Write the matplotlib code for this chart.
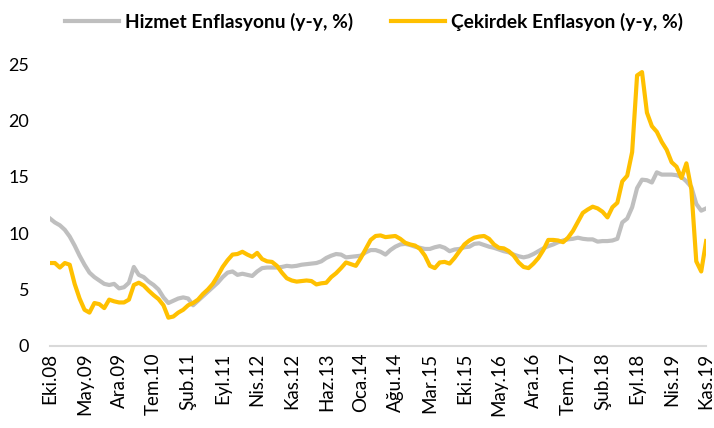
import matplotlib.pyplot as plt

plt.rcParams['font.family'] = ['Lato', 'DejaVu Sans']

# monthly data, Eki.08 ... Kas.19
hizmet = [
    11.3, 10.95, 10.7, 10.3, 9.7, 8.9, 8.0, 7.2, 6.5, 6.1,
    5.8, 5.5, 5.4, 5.5, 5.1, 5.2, 5.6, 7.0, 6.3, 6.1,
    5.7, 5.4, 5.0, 4.3, 3.8, 4.0, 4.2, 4.3, 4.2, 3.6,
    4.0, 4.4, 4.8, 5.2, 5.6, 6.1, 6.5, 6.6, 6.3, 6.4,
    6.3, 6.2, 6.6, 6.9, 6.95, 6.95, 6.95, 7.0, 7.1, 7.05,
    7.1, 7.2, 7.25, 7.3, 7.35, 7.5, 7.8, 8.0, 8.15, 8.1,
    7.85, 7.9, 7.95, 8.0, 8.3, 8.5, 8.5, 8.35, 8.1, 8.5,
    8.8, 9.0, 9.05, 8.95, 8.8, 8.7, 8.6, 8.6, 8.75, 8.85,
    8.7, 8.4, 8.55, 8.6, 8.75, 8.8, 9.05, 9.1, 8.95, 8.8,
    8.7, 8.55, 8.4, 8.3, 8.1, 7.95, 7.85, 7.95, 8.15, 8.4,
    8.65, 8.85, 9.0, 9.2, 9.35, 9.45, 9.5, 9.6, 9.5, 9.45,
    9.45, 9.25, 9.3, 9.3, 9.35, 9.5, 10.95, 11.3, 12.3, 14.0,
    14.75, 14.7, 14.5, 15.4, 15.2, 15.2, 15.2, 15.15, 15.0, 14.6,
    14.1, 12.6, 12.0, 12.2,
]

cekirdek = [
    7.35, 7.35, 6.95, 7.35, 7.2, 5.5, 4.2, 3.2, 2.95, 3.8,
    3.7, 3.35, 4.1, 3.95, 3.85, 3.85, 4.1, 5.4, 5.6, 5.35,
    4.9, 4.5, 4.15, 3.6, 2.5, 2.6, 2.95, 3.2, 3.6, 3.8,
    4.1, 4.6, 5.0, 5.5, 6.2, 7.0, 7.6, 8.1, 8.15, 8.35,
    8.1, 7.9, 8.25, 7.7, 7.5, 7.45, 7.1, 6.5, 6.0, 5.8,
    5.7, 5.75, 5.8, 5.75, 5.45, 5.55, 5.6, 6.1, 6.45, 6.9,
    7.4, 7.25, 7.1, 7.8, 8.6, 9.4, 9.75, 9.8, 9.65, 9.7,
    9.75, 9.5, 9.15, 9.0, 8.9, 8.6, 8.0, 7.1, 6.9, 7.4,
    7.45, 7.3, 7.8, 8.4, 9.0, 9.35, 9.6, 9.7, 9.75, 9.5,
    9.0, 8.7, 8.65, 8.4, 8.0, 7.4, 7.0, 6.9, 7.3, 7.8,
    8.5, 9.4, 9.4, 9.35, 9.2, 9.6, 10.2, 11.0, 11.8, 12.1,
    12.35, 12.2, 11.9, 11.4, 12.3, 12.7, 14.6, 15.1, 17.2, 24.0,
    24.3, 20.7, 19.5, 19.0, 18.1, 17.4, 16.3, 15.9, 14.9, 16.2,
    13.9, 7.5, 6.6, 9.3,
]

tick_labels = ['Eki.08', 'May.09', 'Ara.09', 'Tem.10', 'Şub.11', 'Eyl.11',
               'Nis.12', 'Kas.12', 'Haz.13', 'Oca.14', 'Ağu.14', 'Mar.15',
               'Eki.15', 'May.16', 'Ara.16', 'Tem.17', 'Şub.18', 'Eyl.18',
               'Nis.19', 'Kas.19']

x = list(range(len(hizmet)))

fig = plt.figure(figsize=(7.14, 4.28), dpi=100)
ax = fig.add_axes([0.070, 0.192, 0.919, 0.658])

ax.plot(x, hizmet, color='#BFBFBF', lw=3.0, label='Hizmet Enflasyonu (y-y, %)',
        solid_joinstyle='round')
ax.plot(x, cekirdek, color='#FFC000', lw=3.0, label='Çekirdek Enflasyon (y-y, %)',
        solid_joinstyle='round')

ax.set_xlim(0, len(x) - 1)
ax.set_ylim(0, 25)
ax.set_yticks([0, 5, 10, 15, 20, 25])
ax.set_xticks(x[::7])
ax.set_xticklabels(tick_labels, rotation=90, va='top', ha='center')

for s in ['top', 'right', 'left']:
    ax.spines[s].set_visible(False)
ax.spines['bottom'].set_color('#D9D9D9')
ax.spines['bottom'].set_linewidth(1.5)
ax.tick_params(axis='both', length=0, labelcolor='black')
ax.tick_params(axis='y', pad=15, labelsize=13)
ax.tick_params(axis='x', pad=5, labelsize=13.5)

fig.legend(loc='upper center', bbox_to_anchor=(0.524, 1.01), ncol=2, frameon=False,
           prop={'weight': 'bold', 'size': 13.8}, handlelength=2.8, handletextpad=0.3,
           columnspacing=2.0)

plt.savefig('out.png', dpi=100)
